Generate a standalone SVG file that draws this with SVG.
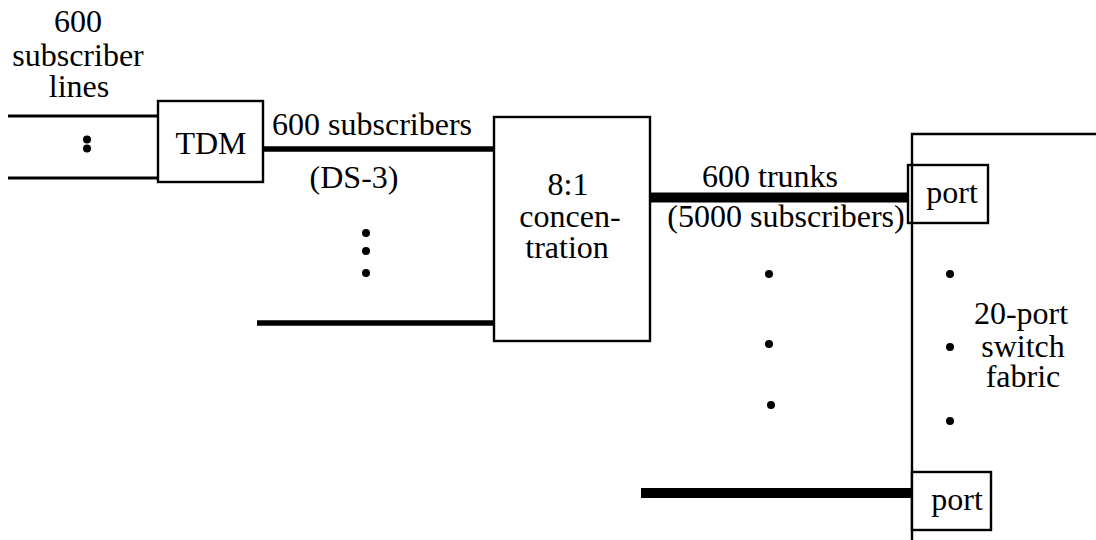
<svg xmlns="http://www.w3.org/2000/svg" width="1096" height="540" viewBox="0 0 1096 540">
<style>
text{font-family:"Liberation Serif","Times New Roman",serif;font-size:32px;fill:#000;text-anchor:middle}
.box{fill:#fff;stroke:#000;stroke-width:2.4}
.thin{stroke:#000;stroke-width:3;fill:none}
.med{stroke:#000;stroke-width:5.5;fill:none}
.thick{stroke:#000;stroke-width:10;fill:none}
.dot{fill:#000}
</style>
<rect width="1096" height="540" fill="#fff"/>
<g id="connectors">
<line class="thin" x1="8" y1="116" x2="158" y2="116"/>
<line class="thin" x1="8" y1="178" x2="158" y2="178"/>
<line class="med" x1="263" y1="149" x2="494" y2="149"/>
<line class="med" x1="257" y1="323" x2="494" y2="323"/>
<line class="thick" x1="650" y1="197.5" x2="912" y2="197.5"/>
<line class="thick" x1="641" y1="493" x2="912" y2="493"/>
</g>
<g id="label-subscriber-lines">
<text x="78" y="32">600<tspan x="78" y="66">subscriber</tspan><tspan x="79" y="97">lines</tspan></text>
<circle class="dot" cx="87" cy="139.5" r="4"/>
<circle class="dot" cx="87" cy="148.5" r="4"/>
</g>
<g id="tdm">
<rect class="box" x="158" y="101" width="105" height="81"/>
<text x="211" y="153.5">TDM</text>
</g>
<g id="label-ds3">
<text x="372" y="135">600 subscribers</text>
<text x="354" y="188">(DS-3)</text>
<circle class="dot" cx="366" cy="233" r="4"/>
<circle class="dot" cx="366" cy="251" r="4"/>
<circle class="dot" cx="366" cy="273" r="4"/>
</g>
<g id="concentration">
<rect class="box" x="494" y="117" width="156" height="224"/>
<text x="568" y="195">8:1<tspan x="570" y="227">concen-</tspan><tspan x="567" y="258">tration</tspan></text>
</g>
<g id="label-trunks">
<text x="770" y="187">600 trunks</text>
<text x="786" y="227">(5000 subscribers)</text>
<circle class="dot" cx="769" cy="274" r="4"/>
<circle class="dot" cx="769" cy="344" r="4"/>
<circle class="dot" cx="771" cy="405" r="4"/>
</g>
<g id="switch-fabric">
<polyline points="912,540 912,134 1096,134" fill="none" stroke="#000" stroke-width="2.4"/>
<circle class="dot" cx="950" cy="274" r="4"/>
<circle class="dot" cx="950" cy="347" r="4"/>
<circle class="dot" cx="950" cy="421" r="4"/>
<text x="1021" y="324">20-port<tspan x="1023" y="357">switch</tspan><tspan x="1023" y="387">fabric</tspan></text>
</g>
<g id="port-top">
<rect class="box" x="908" y="165" width="80" height="58"/>
<line x1="912" y1="165" x2="912" y2="223" stroke="#000" stroke-width="2.4"/>
<text x="952" y="203">port</text>
</g>
<g id="port-bottom">
<rect class="box" x="912" y="472" width="79" height="58"/>
<text x="957" y="510">port</text>
</g>
</svg>
